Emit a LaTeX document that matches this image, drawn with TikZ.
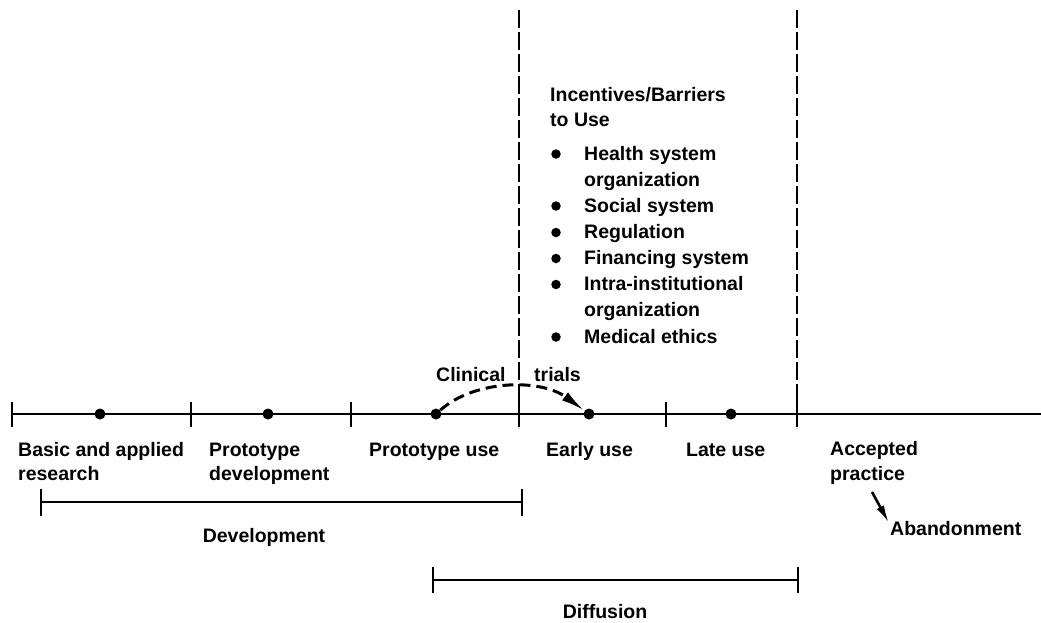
\documentclass[tikz,border=0pt]{standalone}
\usepackage{fontspec}
\setmainfont{Liberation Sans}
\usetikzlibrary{arrows.meta}
\begin{document}
\begin{tikzpicture}[x=1pt,y=-1pt,
  txt/.style={anchor=base west, inner sep=0pt, font=\fontsize{19.5}{22}\selectfont\bfseries},
  ctxt/.style={anchor=base, inner sep=0pt, font=\fontsize{19.5}{22}\selectfont\bfseries},
  axis/.style={line width=2.8pt},
  tickmark/.style={line width=2.6pt},
  dotmark/.style={circle, fill=black, inner sep=0pt, minimum size=11pt},
  bulmark/.style={circle, fill=black, inner sep=0pt, minimum size=9.5pt},
  vdash/.style={line width=2.6pt, dash pattern=on 18pt off 4pt},
  cdash/.style={line width=3pt, dash pattern=on 11pt off 6pt},
  tipA/.style={-{Latex[length=24pt,width=10pt]}}
]
\useasboundingbox (0,0) rectangle (1041,622);
% axis coordinates
\coordinate (t0) at (12,414);
\coordinate (t1) at (191,414);
\coordinate (t2) at (351,414);
\coordinate (t3) at (519,414);
\coordinate (t4) at (666,414);
\coordinate (t5) at (797,414);
\coordinate (tend) at (1041,414);
\draw[axis] (t0) -- (tend);
\foreach \t in {t0,t1,t2,t3,t4,t5}
  \draw[tickmark] ([yshift=12pt]\t) -- ([yshift=-13pt]\t);
% dashed verticals
\coordinate (v1top) at (519,10);
\coordinate (v1bot) at (519,428);
\coordinate (v2top) at (797,10);
\coordinate (v2bot) at (797,428);
\draw[vdash] (v1top) -- (v1bot);
\draw[vdash] (v2top) -- (v2bot);
% dots
\node[dotmark] (d1) at (100,414) {};
\node[dotmark] (d2) at (268,414) {};
\node[dotmark] (d3) at (436,414) {};
\node[dotmark] (d4) at (589,414) {};
\node[dotmark] (d5) at (731,414) {};
% clinical trials curve
\draw[cdash, tipA] (d3) .. controls (474,380) and (540,378) .. (d4);
\node[txt] (clin) at (436,381) {Clinical};
\node[txt] (trials) at (534,381) {trials};
% stage labels
\node[txt] (l1a) at (18,456) {Basic and applied};
\node[txt] (l1b) at (18,480) {research};
\node[txt] (l2a) at (209,456) {Prototype};
\node[txt] (l2b) at (209,480) {development};
\node[txt] (l3) at (369,456) {Prototype use};
\node[txt] (l4) at (546,456) {Early use};
\node[txt] (l5) at (686,456) {Late use};
\node[txt] (l6a) at (830,455) {Accepted};
\node[txt] (l6b) at (830,480) {practice};
\node[txt] (aband) at (890,535) {Abandonment};
\coordinate (abA) at (872,492);
\coordinate (abB) at (889,523);
\draw[line width=2.6pt, -{Latex[length=18pt,width=8pt]}] (abA) -- (abB);
% development bar
\coordinate (dv1) at (41,502);
\coordinate (dv2) at (522,502);
\draw[axis] (dv1) -- (dv2);
\draw[tickmark] ([yshift=13pt]dv1) -- ([yshift=-14pt]dv1);
\draw[tickmark] ([yshift=13pt]dv2) -- ([yshift=-14pt]dv2);
\node[ctxt] (devl) at (264,542) {Development};
% diffusion bar
\coordinate (df1) at (433,580);
\coordinate (df2) at (798,580);
\draw[axis] (df1) -- (df2);
\draw[tickmark] ([yshift=13pt]df1) -- ([yshift=-13pt]df1);
\draw[tickmark] ([yshift=13pt]df2) -- ([yshift=-13pt]df2);
\node[ctxt] (difl) at (605,618) {Diffusion};
% incentives block
\node[txt] (inc1) at (550,101) {Incentives/Barriers};
\node[txt] (inc2) at (550,126) {to Use};
\foreach \y/\s [count=\i] in {160/Health system, 186/organization, 212/Social system, 238.5/Regulation, 264.5/Financing system, 290.5/Intra-institutional, 316.5/organization, 343/Medical ethics}
  \node[txt] (it\i) at (584,\y) {\s};
\foreach \y [count=\i] in {160,212,238.5,264.5,290.5,343}
  \node[bulmark] (b\i) at (556,\y-6) {};
\end{tikzpicture}
\end{document}
